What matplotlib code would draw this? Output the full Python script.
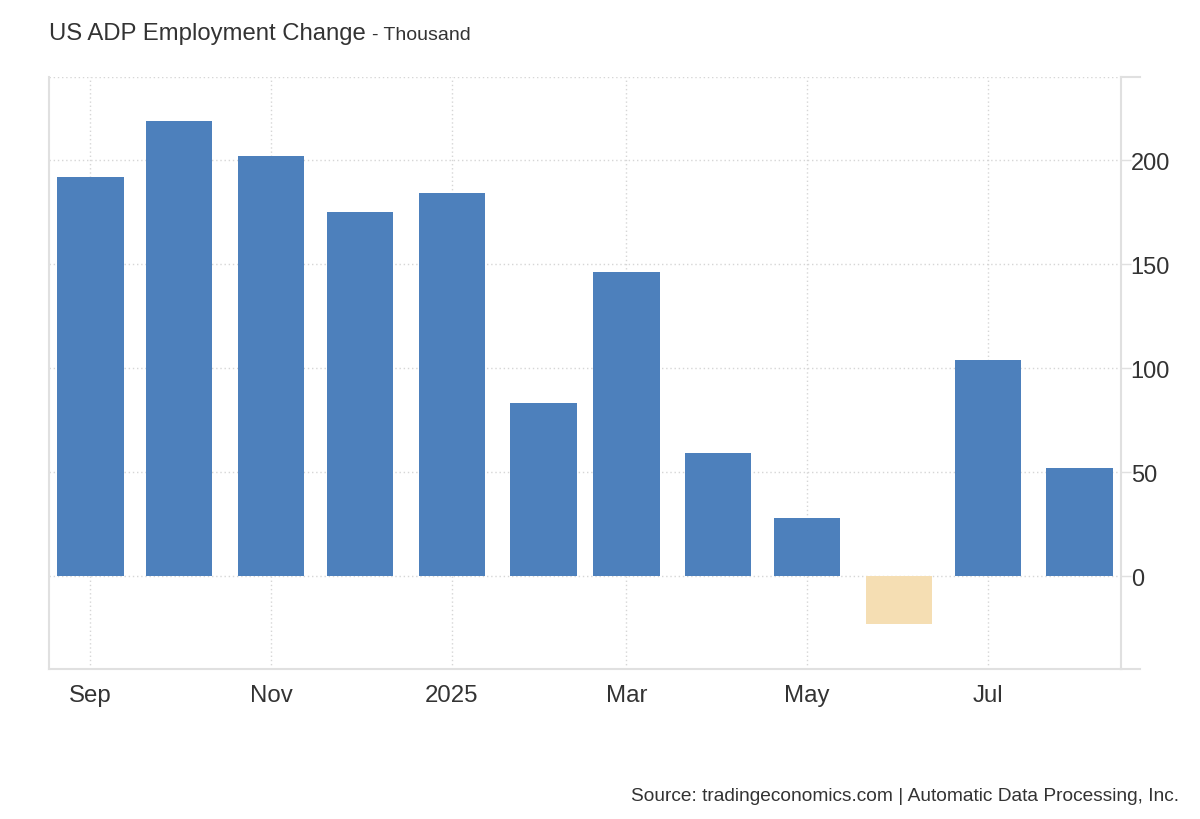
import matplotlib
matplotlib.use('Agg')
import matplotlib.pyplot as plt
import numpy as np
import pandas as pd

plt.rcParams['font.family'] = ['Liberation Sans', 'DejaVu Sans']

months = ['2024-09', '2024-10', '2024-11', '2024-12', '2025-01', '2025-02',
          '2025-03', '2025-04', '2025-05', '2025-06', '2025-07', '2025-08']
values = [192, 219, 202, 175, 184, 83, 146, 59, 28, -23, 104, 52]
tick_months = ['2024-09', '2024-11', '2025-01', '2025-03', '2025-05', '2025-07']
tick_labels = ['Sep', 'Nov', '2025', 'Mar', 'May', 'Jul']
y_ticks = [0, 50, 100, 150, 200]

x = pd.to_datetime(months)
y = np.array(values)
colors = ['#4d80bc' if v >= 0 else '#f5deb3' for v in y]

text_col = '#333333'
line_col = '#e0e0e0'

fig = plt.figure(figsize=(12, 8.2), dpi=100, facecolor='white')
ax = fig.add_axes([49/1200, 1-670/820, (1121-49)/1200, (670-78)/820])

ax.bar(x, y, width=22.4, color=colors, zorder=2)

ax.set_xlim(pd.Timestamp('2024-08-18'), pd.Timestamp('2025-08-15'))
ax.set_ylim(-44.7, 240)

ax.set_xticks(pd.to_datetime(tick_months))
ax.set_xticklabels(tick_labels)
ax.set_yticks(y_ticks)
ax.set_yticklabels([str(v) for v in y_ticks])

ax.yaxis.tick_right()
ax.tick_params(axis='y', direction='out', length=7, width=1, color=line_col,
               pad=0, labelsize=17, labelcolor=text_col)
ax.tick_params(axis='x', length=0, pad=11, labelsize=17.3, labelcolor=text_col)

ax.grid(True, linestyle=(0, (1, 2)), color='#d6d6d6', linewidth=1, zorder=0)
ax.axhline(240, linestyle=(0, (1, 2)), color='#d6d6d6', linewidth=1, zorder=0)

ax.spines['top'].set_visible(False)
for side in ['left', 'right', 'bottom']:
    ax.spines[side].set_color(line_col)
    ax.spines[side].set_linewidth(1.5)

# top and bottom borders run a little past the right axis
ax.plot([1.0, 1.018], [1.0, 1.0], transform=ax.transAxes, color=line_col,
        linewidth=1.5, clip_on=False)
ax.plot([1.0, 1.018], [0.0, 0.0], transform=ax.transAxes, color=line_col,
        linewidth=1.5, clip_on=False)

fig.text(49/1200, 1-34/820, 'US ADP Employment Change', fontsize=17.2,
         color=text_col, va='center', ha='left')
fig.text(372/1200, 1-35/820, '- Thousand', fontsize=14,
         color=text_col, va='center', ha='left')
fig.text(1179/1200, 1-797/820,
         'Source: tradingeconomics.com | Automatic Data Processing, Inc.',
         fontsize=13.8, color=text_col, va='center', ha='right')

fig.savefig('out.png', dpi=100, facecolor='white')
